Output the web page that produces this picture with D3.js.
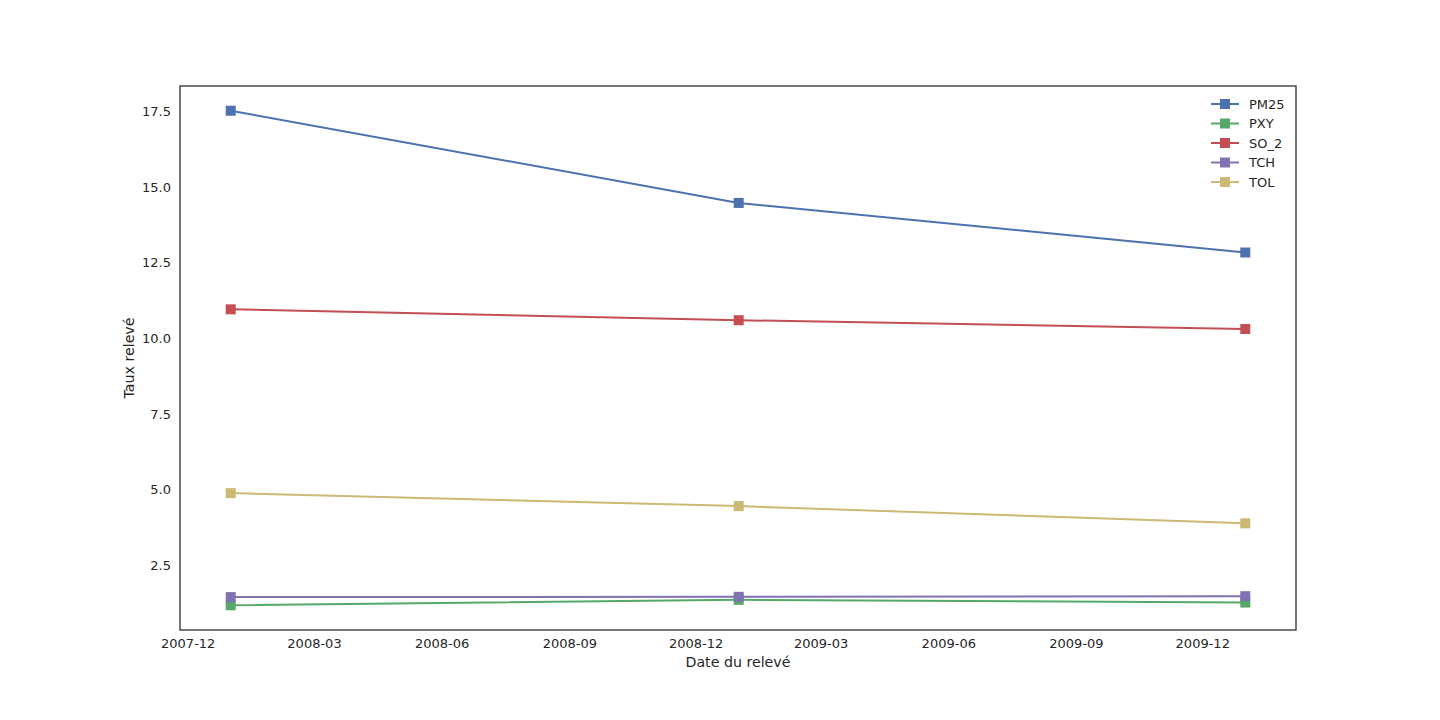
<!DOCTYPE html>
<html><head><meta charset="utf-8">
<script src="https://cdn.jsdelivr.net/npm/d3@7"></script>
<style>body{margin:0;background:#fff}svg text{font-family:"DejaVu Sans",sans-serif;fill:#262626}</style>
</head><body><svg id="c" width="1440" height="720"></svg>
<script>
const dates = ["2008-01-01","2009-01-01","2010-01-01"];
const seriesNames = ["PM25","PXY","SO_2","TCH","TOL"];
const PM25 = [17.53, 14.48, 12.84];
const PXY = [1.17, 1.35, 1.26];
const SO_2 = [10.96, 10.60, 10.31];
const TCH = [1.44, 1.45, 1.47];
const TOL = [4.88, 4.45, 3.88];
const colors = ["#4C72B0","#55A868","#C44E52","#8172B2","#CCB974"];
const xTicks = ["2007-12","2008-03","2008-06","2008-09","2008-12","2009-03","2009-06","2009-09","2009-12"];
const yTicks = [2.5,5.0,7.5,10.0,12.5,15.0,17.5];
const values = [PM25,PXY,SO_2,TCH,TOL];

const L=180,R=1296,T=86,B=630;
const svg=d3.select("#c");
const parse=d3.utcParse("%Y-%m-%d");
const pm=d3.utcParse("%Y-%m");
const dd=dates.map(parse);
const t0=+dd[0],t1=+dd[dd.length-1],pad=(t1-t0)*0.05;
const x=d3.scaleUtc().domain([new Date(t0-pad),new Date(t1+pad)]).range([L,R]);
const all=values.flat();const mn=d3.min(all),mx=d3.max(all),yp=(mx-mn)*0.05;
const y=d3.scaleLinear().domain([mn-yp,mx+yp]).range([B,T]);

const xa=svg.append("g").attr("transform",`translate(0,${B})`)
 .call(d3.axisBottom(x).tickValues(xTicks.map(pm)).tickFormat(d3.utcFormat("%Y-%m")).tickSize(0).tickPadding(9));
xa.select(".domain").remove();
xa.selectAll("text").attr("font-size",13).style("font-family","DejaVu Sans");
const ya=svg.append("g").attr("transform",`translate(${L},0)`)
 .call(d3.axisLeft(y).tickValues(yTicks).tickFormat(d3.format(".1f")).tickSize(0).tickPadding(9));
ya.select(".domain").remove();
ya.selectAll("text").attr("font-size",13).style("font-family","DejaVu Sans");

const line=d3.line().x((d,i)=>x(dd[i])).y(d=>y(d));
values.forEach((v,k)=>{
  svg.append("path").attr("d",line(v)).attr("fill","none").attr("stroke",colors[k]).attr("stroke-width",2);
  svg.selectAll(null).data(v).enter().append("rect")
   .attr("x",(d,i)=>x(dd[i])-5).attr("y",d=>y(d)-5).attr("width",10).attr("height",10).attr("fill",colors[k]);
});

svg.append("rect").attr("x",L).attr("y",T).attr("width",R-L).attr("height",B-T)
 .attr("fill","none").attr("stroke","#262626").attr("stroke-width",1.25);

svg.append("text").attr("x",(L+R)/2).attr("y",667).attr("text-anchor","middle").attr("font-size",14.2).text("Date du relevé");
svg.append("text").attr("transform",`translate(134,${(T+B)/2}) rotate(-90)`).attr("text-anchor","middle").attr("font-size",14.2).text("Taux relevé");

const lg=svg.append("g");
seriesNames.forEach((n,k)=>{
  const yy=104+k*19.5;
  lg.append("line").attr("x1",1211).attr("x2",1239).attr("y1",yy).attr("y2",yy).attr("stroke",colors[k]).attr("stroke-width",2);
  lg.append("rect").attr("x",1220).attr("y",yy-5).attr("width",10).attr("height",10).attr("fill",colors[k]);
  lg.append("text").attr("x",1249).attr("y",yy+4.5).attr("font-size",13).text(n);
});
</script></body></html>
